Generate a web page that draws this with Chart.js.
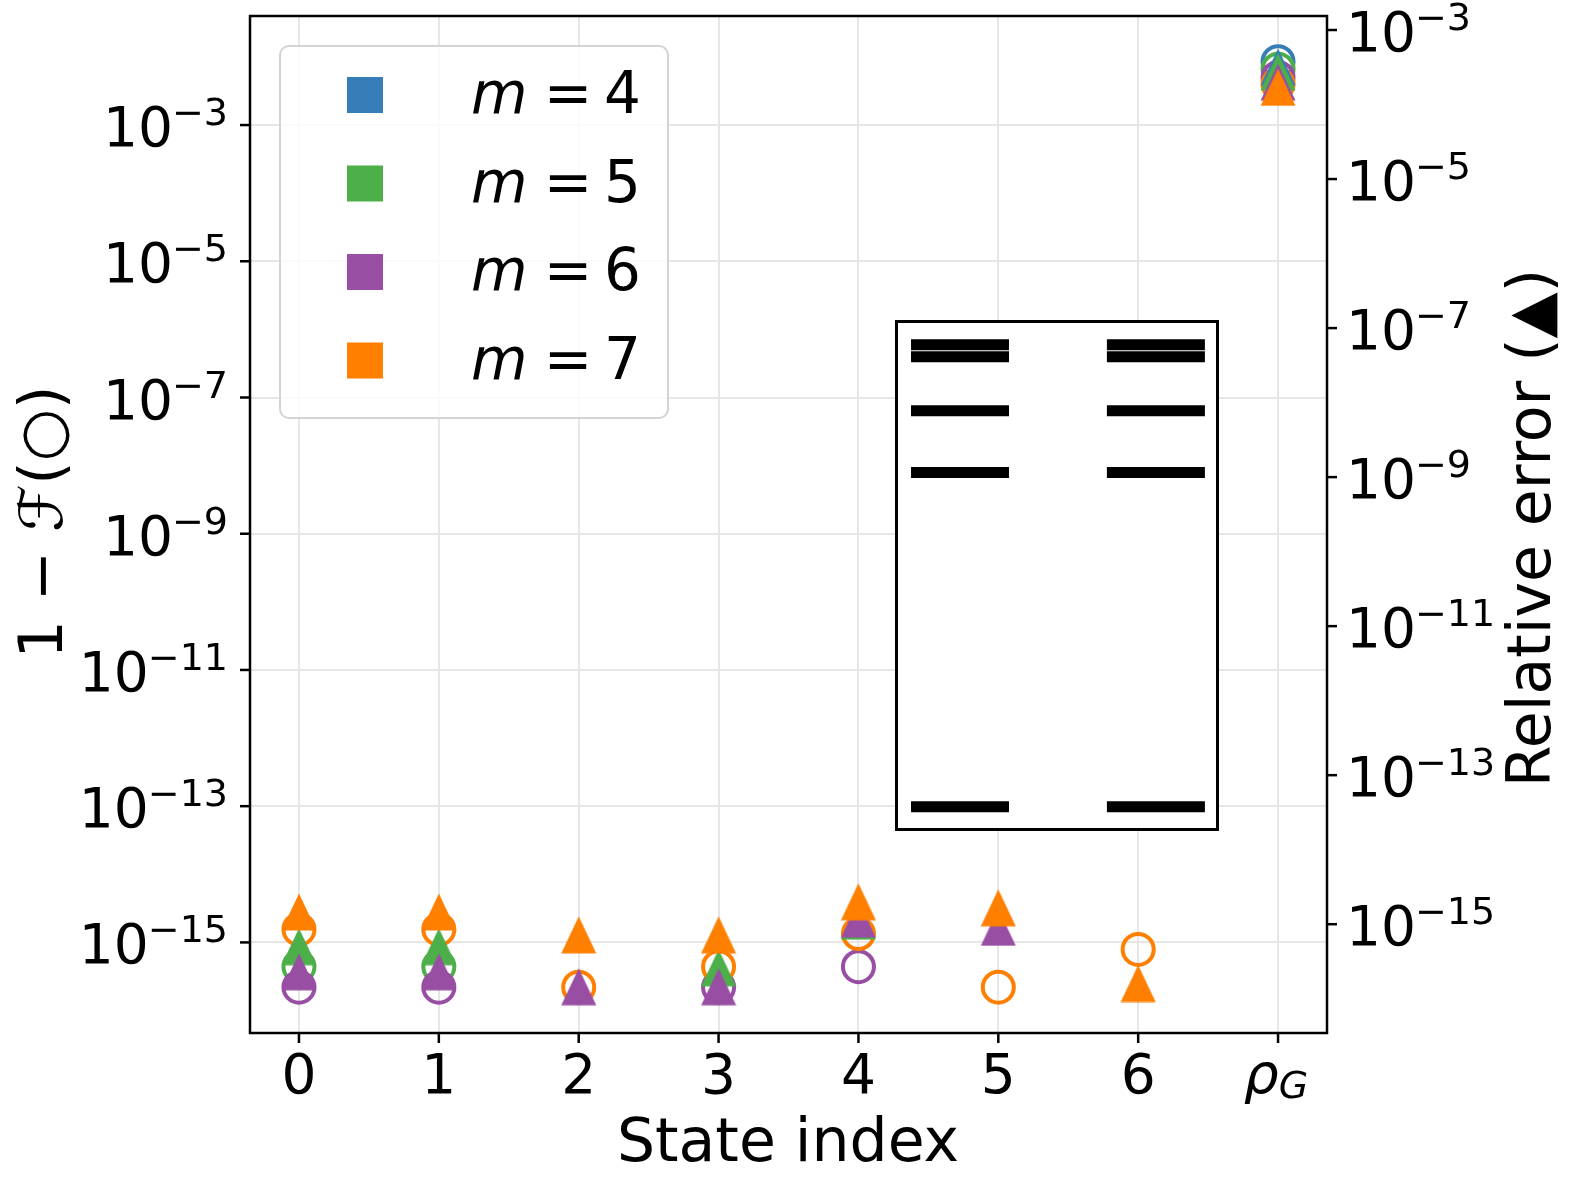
<!DOCTYPE html>
<html>
<head>
<meta charset="utf-8">
<script src="https://cdn.jsdelivr.net/npm/chart.js@4.4.0/dist/chart.umd.min.js"></script>
<style>
  html, body { margin: 0; padding: 0; background: #fff; }
  #wrap { position: relative; width: 1578px; height: 1183px; }
  #main { position: absolute; left: 0; top: 0; }
  #insetBox { position: absolute; left: 895px; top: 320px; width: 324px; height: 511px;
              border: 3px solid #000; box-sizing: border-box; background: #fff; }
  #inset { display: block; }
</style>
</head>
<body>
<div id="wrap">
  <canvas id="main" width="1578" height="1183"></canvas>
  <div id="insetBox"><canvas id="inset" width="318" height="505"></canvas></div>
</div>
<script>
// categorie (indice dello stato) e serie
const stateIndex = [0, 1, 2, 3, 4, 5, 6, 7];
const stateLabels = ['0', '1', '2', '3', '4', '5', '6', 'ρG'];
const mValues = [4, 5, 6, 7];
const mColors = ['#377eb8', '#4daf4a', '#984ea3', '#ff7f00'];

// 1 - F (cerchi, asse sinistro)
const infid4 = [null, null, null, null, null, null, null, 8.5e-3];
const infid5 = [4.4e-16, 4.4e-16, null, null, null, null, null, 6.6e-3];
const infid6 = [2.2e-16, 2.2e-16, null, 2.2e-16, 4.4e-16, null, null, 5.0e-3];
const infid7 = [1.55e-15, 1.55e-15, 2.2e-16, 4.4e-16, 1.35e-15, 2.2e-16, 7.9e-16, 4.0e-3];

// errore relativo (triangoli, asse destro)
const relErr4 = [null, null, null, null, null, null, null, 3.2e-4];
const relErr5 = [5.0e-16, 5.0e-16, null, 2.6e-16, 1.1e-15, null, null, 2.75e-4];
const relErr6 = [2.3e-16, 2.3e-16, 1.45e-16, 1.45e-16, 1.17e-15, 9.1e-16, null, 2.0e-4];
const relErr7 = [1.46e-15, 1.46e-15, 7.2e-16, 7.2e-16, 2.0e-15, 1.66e-15, 1.6e-16, 1.7e-4];

// esponenti dei tick
const leftTickExp = [-3, -5, -7, -9, -11, -13, -15];
const rightTickExp = [-3, -5, -7, -9, -11, -13, -15];

// livelli energetici dell'inserto (unita normalizzate)
const levelsExact = [0.042, 0.704, 0.826, 0.933, 0.957];
const levelsApprox = [0.042, 0.704, 0.826, 0.933, 0.957];

const FONT = "'DejaVu Sans'";
const infidSeries = [infid4, infid5, infid6, infid7];
const errSeries = [relErr4, relErr5, relErr6, relErr7];

function toPoints(arr) {
    return stateIndex.map((x, i) => ({ x: x, y: arr[i] })).filter(p => p.y !== null);
}

// marker triangolare come in matplotlib ('^')
function triangleMarker(color) {
    const c = document.createElement('canvas');
    c.width = 36; c.height = 38;
    const g = c.getContext('2d');
    g.fillStyle = color;
    g.beginPath();
    g.moveTo(18, 0.5); g.lineTo(35.5, 37.5); g.lineTo(0.5, 37.5);
    g.closePath(); g.fill();
    return c;
}

const datasets = [];
mValues.forEach((m, k) => {
    datasets.push({
        label: 'm = ' + m + ' (1-F)',
        data: toPoints(infidSeries[k]),
        yAxisID: 'yL',
        pointStyle: 'circle',
        pointRadius: 15.5,
        pointBorderWidth: 4,
        pointBorderColor: mColors[k],
        pointBackgroundColor: 'rgba(0,0,0,0)',
        showLine: false,
        order: 20 - k
    });
});
mValues.forEach((m, k) => {
    datasets.push({
        label: 'm = ' + m + ' (err)',
        data: toPoints(errSeries[k]),
        yAxisID: 'yR',
        pointStyle: triangleMarker(mColors[k]),
        pointRadius: 18,
        showLine: false,
        order: 10 - k
    });
});

function fixedTicks(values) {
    return function(scale) { scale.ticks = values.map(v => ({ value: v })); };
}

// 10^{-n} con apice
function drawPow(ctx, exp, x, y, align) {
    const base = '10', sup = '\u2212' + Math.abs(exp);
    ctx.font = '55px ' + FONT;
    const wb = ctx.measureText(base).width;
    ctx.font = '38px ' + FONT;
    const ws = ctx.measureText(sup).width;
    const gap = -1;
    const x0 = align === 'right' ? x - (wb + gap + ws) : x;
    ctx.textAlign = 'left';
    ctx.textBaseline = 'alphabetic';
    ctx.font = '55px ' + FONT;
    ctx.fillText(base, x0, y + 21);
    ctx.font = '38px ' + FONT;
    ctx.fillText(sup, x0 + wb + gap, y);
}

const decorPlugin = {
    id: 'decor',
    afterDatasetsDraw(chart) {
        // legenda dentro l'area del grafico
        const ctx = chart.ctx;
        ctx.save();
        const bx = 280, by = 46, bw = 388, bh = 372, r = 9;
        ctx.beginPath();
        ctx.moveTo(bx + r, by);
        ctx.arcTo(bx + bw, by, bx + bw, by + bh, r);
        ctx.arcTo(bx + bw, by + bh, bx, by + bh, r);
        ctx.arcTo(bx, by + bh, bx, by, r);
        ctx.arcTo(bx, by, bx + bw, by, r);
        ctx.closePath();
        ctx.fillStyle = 'rgba(255,255,255,0.8)';
        ctx.fill();
        ctx.strokeStyle = '#d3d3d3';
        ctx.lineWidth = 2;
        ctx.stroke();
        mValues.forEach((m, k) => {
            const cy = 95 + k * 88.5;
            ctx.fillStyle = mColors[k];
            ctx.fillRect(347, cy - 18, 36, 36);
            ctx.fillStyle = '#000';
            ctx.textBaseline = 'alphabetic';
            ctx.textAlign = 'left';
            ctx.font = 'italic 58px ' + FONT;
            ctx.fillText('m', 471, cy + 18);
            ctx.font = '58px ' + FONT;
            ctx.textAlign = 'center';
            ctx.fillText('=', 568, cy + 18);
            ctx.textAlign = 'left';
            ctx.fillText(String(m), 604, cy + 18);
        });
        ctx.restore();
    },
    afterDraw(chart) {
        const ctx = chart.ctx;
        const a = chart.chartArea;
        const sx = chart.scales.x, yL = chart.scales.yL, yR = chart.scales.yR;
        ctx.save();
        ctx.strokeStyle = '#000';
        ctx.fillStyle = '#000';
        ctx.lineWidth = 2.5;
        ctx.strokeRect(a.left, a.top, a.right - a.left, a.bottom - a.top);

        // tick asse x
        stateIndex.forEach((v, i) => {
            const px = sx.getPixelForValue(v);
            ctx.beginPath(); ctx.moveTo(px, a.bottom); ctx.lineTo(px, a.bottom + 10); ctx.stroke();
            const lab = stateLabels[i];
            ctx.textBaseline = 'alphabetic';
            if (lab === 'ρG') {
                ctx.font = 'italic 55px ' + FONT;
                const w1 = ctx.measureText('ρ').width;
                ctx.font = 'italic 38px ' + FONT;
                const w2 = ctx.measureText('G').width;
                const x0 = px - (w1 + w2) / 2 - 2;
                ctx.textAlign = 'left';
                ctx.font = 'italic 55px ' + FONT;
                ctx.fillText('ρ', x0, 1093);
                ctx.font = 'italic 38px ' + FONT;
                ctx.fillText('G', x0 + w1, 1098);
            } else {
                ctx.font = '55px ' + FONT;
                ctx.textAlign = 'center';
                ctx.fillText(lab, px, 1093);
            }
        });

        // tick asse sinistro
        leftTickExp.forEach(e => {
            const py = yL.getPixelForValue(Math.pow(10, e));
            ctx.beginPath(); ctx.moveTo(a.left - 10, py); ctx.lineTo(a.left, py); ctx.stroke();
            drawPow(ctx, e, 228, py, 'right');
        });
        // tick asse destro
        rightTickExp.forEach(e => {
            const py = yR.getPixelForValue(Math.pow(10, e));
            ctx.beginPath(); ctx.moveTo(a.right, py); ctx.lineTo(a.right + 10, py); ctx.stroke();
            drawPow(ctx, e, 1346, py, 'left');
        });

        // titoli
        ctx.font = '60px ' + FONT;
        ctx.textAlign = 'center';
        ctx.textBaseline = 'alphabetic';
        ctx.fillText('State index', 788, 1161);

        ctx.save();
        ctx.translate(62, 522);
        ctx.rotate(-Math.PI / 2);
        ctx.fillText('1 \u2212 \u2131(\u25CB)', 0, 0);
        ctx.restore();

        ctx.save();
        ctx.translate(1550, 528);
        ctx.rotate(-Math.PI / 2);
        ctx.fillText('Relative error (\u25B2)', 0, 0);
        ctx.restore();

        ctx.restore();
    }
};

new Chart(document.getElementById('main'), {
    type: 'scatter',
    data: { datasets: datasets },
    plugins: [decorPlugin],
    options: {
        responsive: false,
        animation: false,
        events: [],
        devicePixelRatio: 1,
        layout: { autoPadding: false, padding: { left: 250, right: 251, top: 16, bottom: 150 } },
        plugins: { legend: { display: false }, tooltip: { enabled: false } },
        scales: {
            x: {
                type: 'linear', min: -0.35, max: 7.35,
                afterBuildTicks: fixedTicks(stateIndex),
                ticks: { display: false },
                grid: { color: '#e6e6e6', lineWidth: 2, drawTicks: false },
                border: { display: false }
            },
            yL: {
                type: 'logarithmic', position: 'left',
                min: Math.pow(10, -16.33), max: Math.pow(10, -1.399),
                afterBuildTicks: fixedTicks(leftTickExp.map(e => Math.pow(10, e))),
                ticks: { display: false },
                grid: { color: '#e6e6e6', lineWidth: 2, drawTicks: false },
                border: { display: false }
            },
            yR: {
                type: 'logarithmic', position: 'right',
                min: Math.pow(10, -16.46), max: Math.pow(10, -2.812),
                afterBuildTicks: fixedTicks(rightTickExp.map(e => Math.pow(10, e))),
                ticks: { display: false },
                grid: { display: false, drawTicks: false },
                border: { display: false }
            }
        }
    }
});

// inserto con i livelli energetici
new Chart(document.getElementById('inset'), {
    type: 'scatter',
    data: {
        datasets: [
            { data: levelsExact.map(e => ({ x: 0.195, y: e })), pointStyle: 'line', pointRadius: 49,
              pointBorderWidth: 11, pointBorderColor: '#000', showLine: false },
            { data: levelsApprox.map(e => ({ x: 0.811, y: e })), pointStyle: 'line', pointRadius: 49,
              pointBorderWidth: 11, pointBorderColor: '#000', showLine: false }
        ]
    },
    options: {
        responsive: false,
        animation: false,
        events: [],
        devicePixelRatio: 1,
        layout: { autoPadding: false, padding: 0 },
        plugins: { legend: { display: false }, tooltip: { enabled: false } },
        scales: {
            x: { display: false, min: 0, max: 1 },
            y: { display: false, min: 0, max: 1 }
        }
    }
});
</script>
</body>
</html>
